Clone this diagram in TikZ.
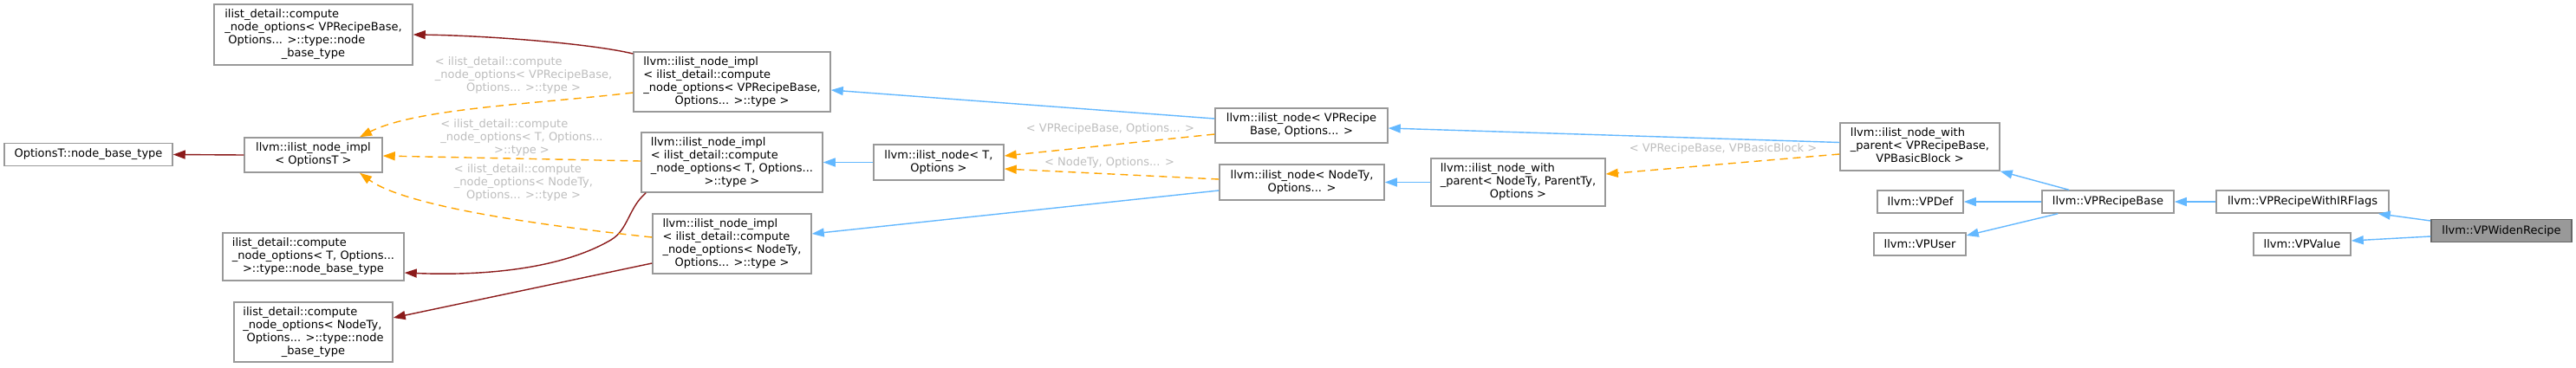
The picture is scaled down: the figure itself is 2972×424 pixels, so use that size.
\documentclass[tikz,border=0pt]{standalone}
\usepackage{fontspec}
\setmainfont{DejaVu Sans}
\usetikzlibrary{arrows.meta,calc}
\definecolor{inh}{HTML}{63B8FF}
\definecolor{tmpl}{HTML}{FFA500}
\definecolor{usage}{HTML}{8B1A1A}
\definecolor{bord}{HTML}{999999}
\definecolor{lbl}{HTML}{BEBEBE}
\definecolor{hifill}{HTML}{999999}
\definecolor{hibord}{HTML}{666666}
\newcommand{\mylines}[1]{\begin{tabular}{@{}l@{}}#1\end{tabular}}
\newcommand{\mylast}[1]{\multicolumn{1}{@{}c@{}}{#1}}
\begin{document}
\begin{tikzpicture}[x=1pt,y=-1pt,
  font=\fontsize{13}{15}\selectfont,
  box/.style 2 args={draw=bord, line width=1.5pt, fill=white, inner sep=0pt,
    minimum width=#1, minimum height=#2},
  hibox/.style 2 args={box={#1}{#2}, fill=hifill, draw=hibord},
  elabel/.style={text=lbl, inner sep=0pt},
  tip/.style={-{Triangle[length=14pt,width=10pt]}},
  inherit/.style={draw=inh, line width=1.4pt, tip, color=inh},
  tmplinst/.style={draw=tmpl, line width=1.4pt, dash pattern=on 9pt off 6pt, tip, color=tmpl},
  uses/.style={draw=usage, line width=1.4pt, tip, color=usage}]
\fill[white] (0,0) rectangle (2972,424);
\useasboundingbox (0,0) rectangle (2972,424);

% nodes
\node[box={229}{70}] (cVP) at (361.5,40) {\mylines{ilist\_detail::compute\\\_node\_options< VPRecipeBase,\\\ Options... >::type::node\\\mylast{\_base\_type}}};
\node[box={194}{26}] (optT) at (102,178.5) {OptionsT::node\_base\_type};
\node[box={159}{40}] (implT) at (361.5,179) {\mylines{llvm::ilist\_node\_impl\\\mylast{< OptionsT >}}};
\node[box={209}{55}] (cT) at (361.5,296.5) {\mylines{ilist\_detail::compute\\\_node\_options< T, Options...\\\mylast{>::type::node\_base\_type}}};
\node[box={183}{69}] (cN) at (361.5,383.5) {\mylines{ilist\_detail::compute\\\_node\_options< NodeTy,\\\ Options... >::type::node\\\mylast{\_base\_type}}};
\node[box={227}{69}] (implVP) at (844.5,94.5) {\mylines{llvm::ilist\_node\_impl\\< ilist\_detail::compute\\\_node\_options< VPRecipeBase,\\\mylast{Options... >::type >}}};
\node[box={209}{69}] (implTT) at (844.5,187.5) {\mylines{llvm::ilist\_node\_impl\\< ilist\_detail::compute\\\_node\_options< T, Options...\\\mylast{>::type >}}};
\node[box={183}{69}] (implN) at (844.5,281.5) {\mylines{llvm::ilist\_node\_impl\\< ilist\_detail::compute\\\_node\_options< NodeTy,\\\mylast{Options... >::type >}}};
\node[box={150}{41}] (nodeT) at (1083,187.5) {\mylines{llvm::ilist\_node< T,\\\mylast{Options >}}};
\node[box={199}{40}] (nodeVP) at (1501.5,145) {\mylines{llvm::ilist\_node< VPRecipe\\\mylast{Base, Options... >}}};
\node[box={190}{41}] (nodeN) at (1502,210.5) {\mylines{llvm::ilist\_node< NodeTy,\\\mylast{Options... >}}};
\node[box={201}{55}] (parentN) at (1751.5,210.5) {\mylines{llvm::ilist\_node\_with\\\_parent< NodeTy, ParentTy,\\\mylast{Options >}}};
\node[box={184}{55}] (parentVP) at (2215,169.5) {\mylines{llvm::ilist\_node\_with\\\_parent< VPRecipeBase,\\\mylast{VPBasicBlock >}}};
\node[box={99}{26}] (vpdef) at (2215.5,233) {llvm::VPDef};
\node[box={106}{26}] (vpuser) at (2215,282) {llvm::VPUser};
\node[box={152}{26}] (vprb) at (2432,233) {llvm::VPRecipeBase};
\node[box={199}{26}] (vprf) at (2656.5,233) {llvm::VPRecipeWithIRFlags};
\node[box={112}{26}] (vpval) at (2656,282) {llvm::VPValue};
\node[hibox={162}{26}] (vpwr) at (2886,266.5) {llvm::VPWidenRecipe};

% edge labels
\node[elabel] (l1) at (604,87) {\mylines{< ilist\_detail::compute\\\_node\_options< VPRecipeBase,\\\mylast{Options... >::type >}}};
\node[elabel] (l2) at (602,159) {\mylines{< ilist\_detail::compute\\\_node\_options< T, Options...\\\mylast{>::type >}}};
\node[elabel] (l3) at (604,211) {\mylines{< ilist\_detail::compute\\\_node\_options< NodeTy,\\\mylast{Options... >::type >}}};
\node[elabel] (l4) at (1281,149) {< VPRecipeBase, Options... >};
\node[elabel] (l5) at (1280,188) {< NodeTy, Options... >};
\node[elabel] (l6) at (1988,172) {< VPRecipeBase, VPBasicBlock >};

% usage edges
\draw[uses] ($(implVP.west)+(0,-32.5)$) .. controls (680,50) and (560,41) .. (cVP.east);
\draw[uses] (implT.west) -- (optT.east);
\draw[uses] ($(implTT.south west)+(6,0)$) .. controls (725,240) and (725,265) .. (705,277) .. controls (640,315) and (540,318) .. ($(cT.east)+(0,18.5)$);
\draw[uses] ($(implN.west)+(0,22.5)$) -- ($(cN.east)+(0,-16.5)$);

% template instance edges
\draw[tmplinst] ($(implVP.west)+(0,12.5)$) .. controls (620,120) and (480,125) .. ($(implT.north)+(53.5,0)$);
\draw[tmplinst] ($(implTT.west)+(0,-1.5)$) -- ($(implT.east)+(0,1)$);
\draw[tmplinst] ($(implN.west)+(0,-7.5)$) .. controls (640,262) and (470,240) .. ($(implT.south)+(53.5,0)$);
\draw[tmplinst] ($(nodeVP.west)+(0,10)$) -- ($(nodeT.east)+(0,-7.5)$);
\draw[tmplinst] ($(nodeN.west)+(0,-3.5)$) -- ($(nodeT.east)+(0,7.5)$);
\draw[tmplinst] ($(parentVP.west)+(0,8.5)$) -- ($(parentN.east)+(0,-9.5)$);

% inheritance edges
\draw[inherit] ($(nodeVP.west)+(0,-8)$) -- ($(implVP.east)+(0,9.5)$);
\draw[inherit] (nodeT.west) -- (implTT.east);
\draw[inherit] ($(nodeN.west)+(0,9.5)$) -- ($(implN.east)+(0,-11.5)$);
\draw[inherit] (parentN.west) -- (nodeN.east);
\draw[inherit] ($(parentVP.west)+(0,-5)$) -- ($(nodeVP.east)+(0,3)$);
\draw[inherit] ($(vprb.north)+(-45,0)$) -- (parentVP.south east);
\draw[inherit] (vprb.west) -- (vpdef.east);
\draw[inherit] ($(vprb.south west)+(19,0)$) -- ($(vpuser.east)+(0,-10)$);
\draw[inherit] (vprf.west) -- (vprb.east);
\draw[inherit] ($(vpwr.west)+(0,-11.5)$) -- ($(vprf.south east)+(-13,0)$);
\draw[inherit] ($(vpwr.west)+(0,6.5)$) -- ($(vpval.east)+(0,-4)$);
\end{tikzpicture}
\end{document}
